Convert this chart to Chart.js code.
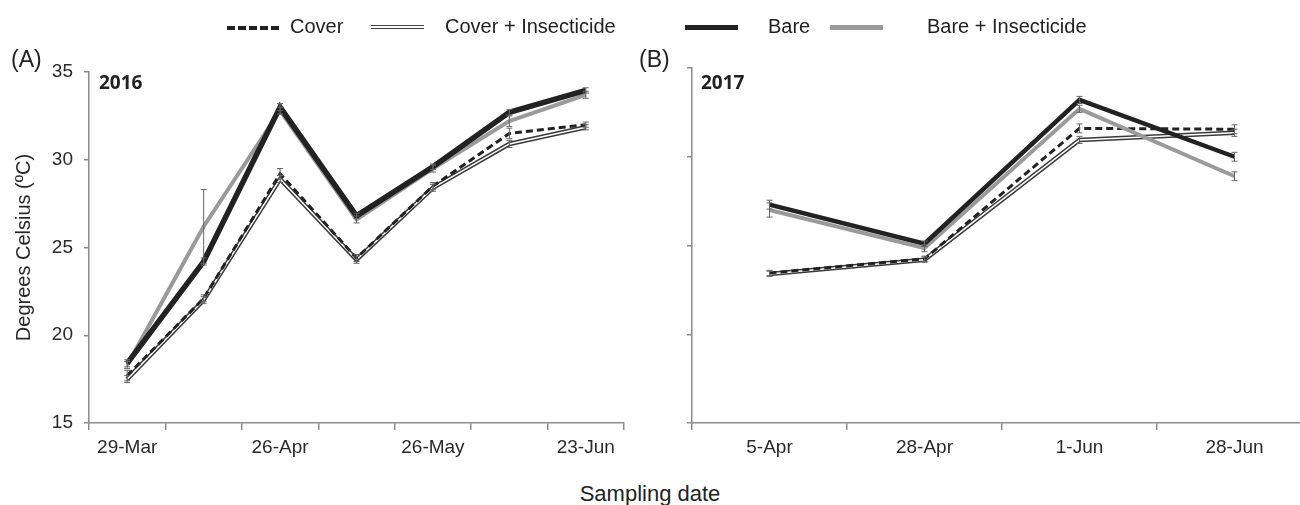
<!DOCTYPE html>
<html>
<head>
<meta charset="utf-8">
<script src="https://cdn.jsdelivr.net/npm/chart.js@4.4.1/dist/chart.umd.min.js"></script>
<style>
body { margin: 0; width: 1300px; height: 505px; overflow: hidden; background: #fff; position: relative;
       font-family: "Liberation Sans", Arial, sans-serif; color: #222; }
#wrapA { position: absolute; left: 0; top: 0; width: 650px; height: 480px; }
#wrapB { position: absolute; left: 660px; top: 0; width: 652px; height: 480px; }
.txt { position: absolute; white-space: nowrap; }
.panel { font-size: 23px; top: 46px; }
.year { font-family: "Open Sans", sans-serif; font-weight: bold; font-size: 19px; top: 69px; }
.leg { font-size: 20px; top: 15px; }
.sw { position: absolute; top: 26px; width: 53px; }
</style>
</head>
<body>
<div id="wrapA"><canvas id="chartA" width="650" height="480"></canvas></div>
<div id="wrapB"><canvas id="chartB" width="652" height="480"></canvas></div>

<div class="txt panel" style="left:11px">(A)</div>
<div class="txt panel" style="left:639px">(B)</div>
<div class="txt year" style="left:99px">2016</div>
<div class="txt year" style="left:701px">2017</div>

<!-- legend -->
<div class="sw" style="left:227px;border-top:4px dashed #222;width:52px"></div>
<div class="txt leg" style="left:290px">Cover</div>
<div class="sw" style="left:371px;top:25px;height:2px;border-top:1.5px solid #444;border-bottom:1.5px solid #444"></div>
<div class="txt leg" style="left:445px">Cover + Insecticide</div>
<div class="sw" style="left:685px;top:25px;height:5px;background:#222"></div>
<div class="txt leg" style="left:768px">Bare</div>
<div class="sw" style="left:830px;top:25px;height:5px;background:#9a9a9a"></div>
<div class="txt leg" style="left:927px">Bare + Insecticide</div>

<div class="txt" style="left:0;width:1300px;text-align:center;top:481px;font-size:22px">Sampling date</div>

<script>
// 2016 (panel A)
const ticksA = ["29-Mar", "", "26-Apr", "", "26-May", "", "23-Jun"];
const coverA = [17.7, 22.1, 29.2, 24.4, 28.5, 31.5, 32.0];
const coverInsA = [17.5, 22.0, 28.9, 24.3, 28.4, 30.9, 31.85];
const bareA = [18.4, 24.2, 33.0, 26.8, 29.6, 32.7, 33.95];
const bareInsA = [18.3, 26.2, 32.8, 26.6, 29.5, 32.2, 33.7];
const errCoverA = [0.3, 0.2, 0.3, 0.2, 0.2, 0.3, 0.15];
const errCoverInsA = [0.2, 0.2, 0.2, 0.2, 0.2, 0.2, 0.15];
const errBareA = [0.2, 0.2, 0.2, 0.15, 0.15, 0.15, 0.15];
const errBareInsA = [0.2, 2.1, 0.2, 0.2, 0.2, 0.3, 0.2];

// 2017 (panel B)
const ticksB = ["5-Apr", "28-Apr", "1-Jun", "28-Jun"];
const coverB = [23.45, 24.25, 31.6, 31.55];
const coverInsB = [23.4, 24.2, 30.95, 31.35];
const bareB = [27.3, 25.1, 33.2, 30.0];
const bareInsB = [27.0, 24.85, 32.7, 28.9];
const errCoverB = [0.15, 0.15, 0.25, 0.25];
const errCoverInsB = [0.15, 0.15, 0.2, 0.2];
const errBareB = [0.25, 0.15, 0.2, 0.25];
const errBareInsB = [0.4, 0.2, 0.2, 0.25];

const axisGray = "#8c8c8c";

const errorBars = {
  id: "errorBars",
  afterDatasetsDraw(chart) {
    const ctx = chart.ctx;
    const y = chart.scales.y;
    chart.data.datasets.forEach((ds, i) => {
      if (!ds.err) return;
      chart.getDatasetMeta(i).data.forEach((pt, j) => {
        const top = y.getPixelForValue(ds.data[j] + ds.err[j]);
        const bot = y.getPixelForValue(ds.data[j] - ds.err[j]);
        ctx.save();
        ctx.strokeStyle = "#666";
        ctx.lineWidth = 1;
        ctx.beginPath();
        ctx.moveTo(pt.x, top); ctx.lineTo(pt.x, bot);
        ctx.moveTo(pt.x - 3, top); ctx.lineTo(pt.x + 3, top);
        ctx.moveTo(pt.x - 3, bot); ctx.lineTo(pt.x + 3, bot);
        ctx.stroke();
        ctx.restore();
      });
    });
  }
};

function makeSets(cover, coverIns, bare, bareIns, eC, eCI, eB, eBI, bareW) {
  return [
    { label: "Bare", data: bare, err: eB, borderColor: "#222", borderWidth: bareW, order: 0 },
    { label: "Bare + Insecticide", data: bareIns, err: eBI, borderColor: "#9a9a9a", borderWidth: 4, order: 1 },
    { label: "Cover", data: cover, err: eC, borderColor: "#222", borderWidth: 3, borderDash: [7, 4], order: 2 },
    { label: "Cover + Insecticide", data: coverIns, borderColor: "#fff", borderWidth: 1.5, order: 3 },
    { label: "Cover + Insecticide", data: coverIns, err: eCI, borderColor: "#3a3a3a", borderWidth: 4.5, order: 4 }
  ];
}

function makeOptions(yWidth, padTop, padRight, showY) {
  return {
    responsive: false,
    animation: false,
    layout: { padding: { top: padTop, right: padRight, left: 0, bottom: 0 } },
    elements: { point: { radius: 0 }, line: { tension: 0, borderJoinStyle: "miter" } },
    plugins: { legend: { display: false }, tooltip: { enabled: false } },
    scales: {
      x: {
        offset: true,
        afterFit: s => { s.height = 57; },
        grid: { offset: true, drawOnChartArea: false, tickLength: 7, color: axisGray, lineWidth: 1.5 },
        border: { color: axisGray, width: 1.5 },
        ticks: { autoSkip: false, maxRotation: 0, color: "#2a2a2a", padding: 6,
                 font: { family: "Liberation Sans", size: 19 } }
      },
      y: {
        min: 15, max: 35,
        afterFit: s => { s.width = yWidth; },
        grid: { drawOnChartArea: false, tickLength: 5, color: axisGray, lineWidth: 1.5 },
        border: { color: axisGray, width: 1.5 },
        title: { display: showY, text: "Degrees Celsius (ºC)", color: "#2a2a2a", padding: { top: 12, bottom: 0 },
                 font: { family: "Liberation Sans", size: 20 } },
        ticks: { stepSize: 5, color: "#2a2a2a", padding: 11,
                 font: { family: "Liberation Sans", size: 19 },
                 callback: v => showY ? v : "" }
      }
    }
  };
}

new Chart(document.getElementById("chartA"), {
  type: "line",
  data: { labels: ticksA, datasets: makeSets(coverA, coverInsA, bareA, bareInsA, errCoverA, errCoverInsA, errBareA, errBareInsA, 5.5) },
  options: makeOptions(89, 72, 26, true),
  plugins: [errorBars]
});

new Chart(document.getElementById("chartB"), {
  type: "line",
  data: { labels: ticksB, datasets: makeSets(coverB, coverInsB, bareB, bareInsB, errCoverB, errCoverInsB, errBareB, errBareInsB, 4.5) },
  options: makeOptions(32, 68, 0, false),
  plugins: [errorBars]
});
</script>
</body>
</html>
